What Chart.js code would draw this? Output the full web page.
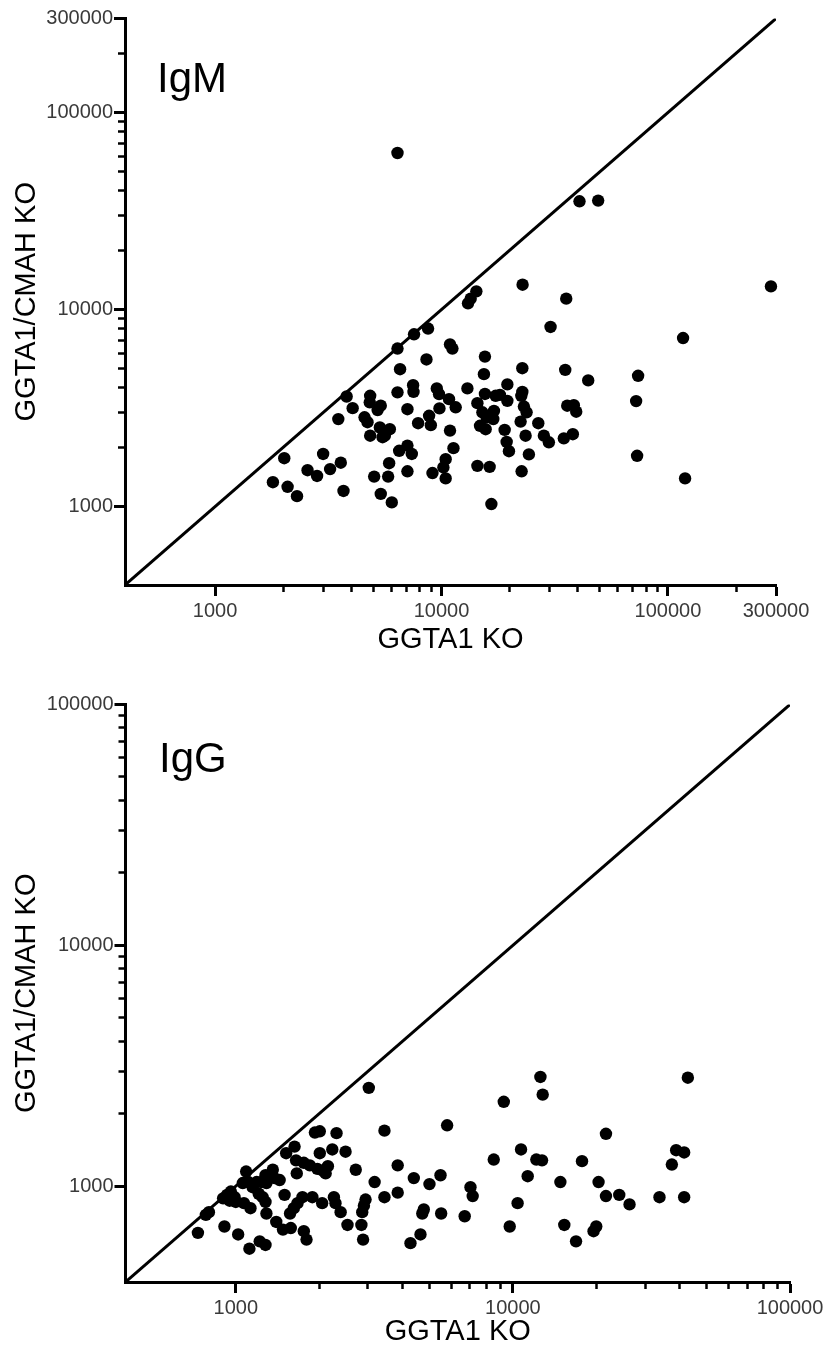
<!DOCTYPE html>
<html>
<head>
<meta charset="utf-8">
<script src="https://cdn.jsdelivr.net/npm/chart.js@4.4.1/dist/chart.umd.min.js"></script>
<style>
  html, body { margin: 0; padding: 0; background: #fff; }
  body { width: 827px; height: 1353px; position: relative; overflow: hidden;
         font-family: "Liberation Sans", Arial, Helvetica, sans-serif; }
  .panel { position: absolute; left: 0; }
  .tag { position: absolute; font-size: 42px; line-height: 42px; color: #000; }
</style>
</head>
<body>
<canvas id="igm" class="panel" width="827" height="670" style="top:0px"></canvas>
<canvas id="igg" class="panel" width="827" height="683" style="top:670px"></canvas>
<div class="tag" style="left:157px;top:57px">IgM</div>
<div class="tag" style="left:159px;top:737px">IgG</div>
<script>
// IgM: GGTA1 KO (x) vs GGTA1/CMAH KO (y)
const igmX = [
  8720, 7560, 6390, 10900, 11170, 8580, 6560, 7490, 7520, 6390,
  9530, 9750, 3810, 4840, 4820, 5390, 5220, 4050, 7070, 9790,
  10790, 11550, 3500, 4570, 4710, 8810, 8970, 7880, 5340, 5910,
  5620, 5490, 4840, 10900, 11290, 7070, 6500, 7390, 2020, 3000,
  3590, 3220, 2560, 2820, 5870, 7070, 9120, 10430, 10190, 10430,
  5040, 5810, 1800, 2090, 2300, 3690, 5390, 6030,
  6390, 40670, 49180, 22800, 35540, 13090, 13450, 14250,
  30300, 116600, 15550, 15390, 22740, 35180, 44440, 73820, 72340, 13010,
  19530, 15550, 17340, 18110, 19530, 22740, 22510, 14400, 15150, 17040,
  16930, 15820, 14790, 15660, 23110, 23750, 22350, 26750, 35900, 38390,
  39340, 19000, 19390, 19850, 23510, 28310, 29790, 34680, 38000, 24310,
  14400, 16310, 22580, 73070, 119000, 16600, 285000
];
const igmY = [
  8010, 7490, 6340, 6660, 6340, 5580, 4980, 4130, 3820, 3800,
  3980, 3720, 3620, 3650, 3380, 3250, 3090, 3160, 3120, 3150,
  3510, 3190, 2780, 2840, 2680, 2890, 2590, 2650, 2520, 2470,
  2290, 2250, 2290, 2430, 1980, 2040, 1920, 1850, 1760, 1850,
  1670, 1550, 1530, 1430, 1660, 1510, 1480, 1740, 1580, 1390,
  1420, 1420, 1330, 1260, 1130, 1200, 1160, 1050,
  62300, 35430, 35720, 13370, 11360, 10750, 11360, 12370,
  8160, 7170, 5770, 4700, 5040, 4940, 4370, 4610, 3430, 3980,
  4170, 3730, 3650, 3690, 3440, 3820, 3650, 3350, 3010, 3060,
  2780, 2840, 2570, 2470, 3220, 3010, 2700, 2650, 3250, 3270,
  3030, 2450, 2130, 1910, 2290, 2290, 2120, 2220, 2330, 1840,
  1610, 1590, 1510, 1810, 1390, 1030, 13110
];

// IgG: same axes
const iggX = [
  1090, 1360, 1380, 1440, 1280, 1290, 1190, 1240, 1060, 1110,
  1150, 960, 930, 990, 900, 950, 1000, 1070, 1130, 1210,
  1250, 1280, 1290, 800, 780, 730, 910, 1020, 1120, 1220,
  1280, 1500,
  3020, 3440, 1930, 2010, 2310, 1630, 1520, 2010, 2230, 2490,
  1650, 1760, 1850, 1970, 2060, 2150, 2110, 1660, 2710, 3840,
  3170, 1740, 1890, 1670, 1620, 1570, 2050, 2260, 2290, 2390,
  2940, 2900, 2860, 3440, 3840, 2530, 2840, 2880, 1400, 1480,
  1580, 1760, 1800,
  12570, 12810, 42790, 9270, 5790, 21670, 10700, 8530, 12150, 12740,
  17760, 38830, 41500, 37470, 11310, 5480, 4390, 5000, 14840, 20380,
  7030, 7160, 21670, 24200, 26360, 33810, 41500, 10400, 4770, 4710,
  5510, 6700, 9740, 15330, 19990, 19550, 4640, 4270, 16900
];
const iggY = [
  1150, 1170, 1080, 1060, 1110, 1030, 1040, 1040, 1030, 1040,
  990, 950, 920, 900, 890, 870, 860, 850, 810, 930,
  900, 860, 770, 780, 760, 640, 680, 630, 550, 590,
  570, 920,
  2560, 1700, 1670, 1690, 1660, 1460, 1370, 1370, 1420, 1390,
  1280, 1250, 1220, 1180, 1160, 1210, 1130, 1130, 1170, 1220,
  1040, 900, 900, 850, 810, 770, 850, 900, 850, 780,
  880, 830, 780, 900, 940, 690, 690, 600, 710, 660,
  670, 650, 600,
  2840, 2400, 2820, 2240, 1790, 1650, 1420, 1290, 1290, 1280,
  1270, 1410, 1380, 1230, 1100, 1110, 1080, 1020, 1040, 1040,
  990, 910, 910, 920, 840, 900, 900, 850, 800, 770,
  770, 750, 680, 690, 680, 650, 630, 580, 590
];

// axis ranges and tick values
const igmRange = [400, 300000];
const iggRange = [400, 100000];
const igmMajor = [1000, 10000, 100000, 300000];
const igmMinor = [2000, 3000, 4000, 5000, 6000, 7000, 8000, 9000,
                  20000, 30000, 40000, 50000, 60000, 70000, 80000, 90000, 200000];
const iggMajor = [1000, 10000, 100000];
const iggMinor = [2000, 3000, 4000, 5000, 6000, 7000, 8000, 9000,
                  20000, 30000, 40000, 50000, 60000, 70000, 80000, 90000];

const FONT = '"Liberation Sans", Arial, Helvetica, sans-serif';

function majorAxis(pos, range, ticks, size, title, titlePad) {
    return {
        type: 'logarithmic',
        position: pos,
        min: range[0],
        max: range[1],
        afterBuildTicks: s => { s.ticks = ticks.map(v => ({ value: v })); },
        afterFit: s => { if (pos === 'left') s.width = size; else s.height = size; },
        ticks: {
            callback: v => String(v),
            autoSkip: false, maxRotation: 0, minRotation: 0,
            padding: pos === 'left' ? 1 : 3,
            color: '#3a3a3a',
            font: { family: FONT, size: 20 }
        },
        grid: { drawOnChartArea: false, tickLength: 11, tickWidth: 3, tickColor: '#000' },
        border: { display: true, width: 3, color: '#000' },
        title: {
            display: true, text: title, color: '#000',
            font: { family: FONT, size: 29 },
            padding: pos === 'left' ? { top: titlePad, bottom: 0 } : { top: 0, bottom: titlePad }
        }
    };
}

// minor ticks: a second, zero-size axis sitting right on the chart edge
function minorAxis(pos, range, ticks) {
    return {
        type: 'logarithmic',
        position: pos,
        weight: -1,
        min: range[0],
        max: range[1],
        afterBuildTicks: s => { s.ticks = ticks.map(v => ({ value: v })); },
        afterFit: s => { if (pos === 'left') s.width = 0; else s.height = 0; },
        ticks: { display: false },
        grid: { drawOnChartArea: false, tickLength: 7, tickWidth: 2.5, tickColor: '#000' },
        border: { display: false }
    };
}

function makePanel(id, xs, ys, range, major, minor, box) {
    const points = xs.map((x, i) => ({ x: x, y: ys[i] }));
    new Chart(document.getElementById(id), {
        type: 'scatter',
        data: {
            datasets: [
                {
                    data: points,
                    pointRadius: 6.2,
                    pointBackgroundColor: '#000',
                    pointBorderWidth: 0,
                    clip: false,
                    order: 0
                },
                {
                    // line of identity
                    data: [{ x: range[0], y: range[0] }, { x: range[1], y: range[1] }],
                    showLine: true,
                    borderColor: '#000',
                    borderWidth: 3,
                    pointRadius: 0,
                    order: 1
                }
            ]
        },
        options: {
            responsive: false,
            animation: false,
            devicePixelRatio: 1,
            layout: { padding: { left: 0, top: box.top, right: box.right, bottom: 0 } },
            plugins: { legend: { display: false }, tooltip: { enabled: false } },
            scales: {
                x: majorAxis('bottom', range, major, box.xHeight, 'GGTA1 KO', box.xTitlePad),
                xMinor: minorAxis('bottom', range, minor),
                y: majorAxis('left', range, major, box.yWidth, 'GGTA1/CMAH KO', 9.6),
                yMinor: minorAxis('left', range, minor)
            }
        }
    });
}

makePanel('igm', igmX, igmY, igmRange, igmMajor, igmMinor,
    { top: 18.5, right: 51, yWidth: 125, xHeight: 85, xTitlePad: 12.6 });
makePanel('igg', iggX, iggY, iggRange, iggMajor, iggMinor,
    { top: 34.5, right: 37, yWidth: 125.5, xHeight: 71, xTitlePad: 3.6 });
</script>
</body>
</html>
